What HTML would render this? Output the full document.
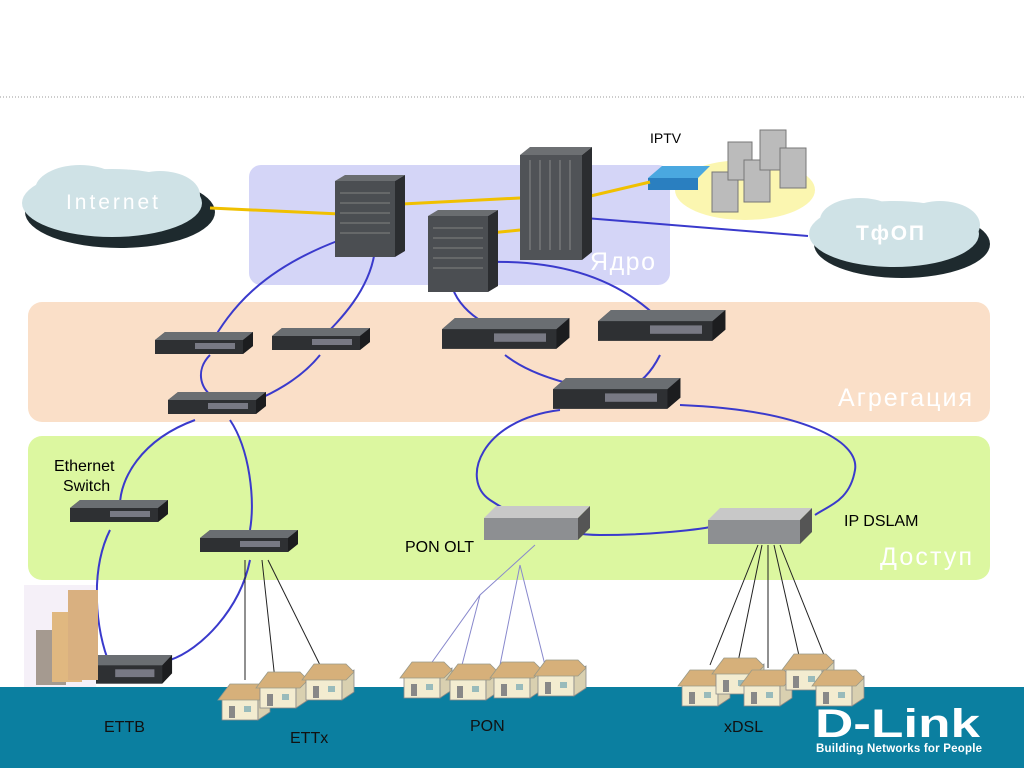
<!DOCTYPE html>
<html><head><meta charset="utf-8"><style>
html,body{margin:0;padding:0;background:#fff;}
svg{display:block;font-family:"Liberation Sans",sans-serif;}
</style></head><body>
<svg width="1024" height="768" viewBox="0 0 1024 768">
<defs>
<g id="sw">
<polygon points="0,8 10,0 98,0 98,14 88,22 0,22" fill="#3a3d40"/>
<polygon points="0,8 88,8 98,0 10,0" fill="#6a6e72"/>
<rect x="0" y="8" width="88" height="14" fill="#2e3033"/>
<rect x="40" y="11" width="40" height="6" fill="#aab" opacity="0.6"/>
<polygon points="88,8 98,0 98,14 88,22" fill="#1c1d1f"/>
</g>
<g id="house">
<rect x="4" y="16" width="36" height="22" fill="#f3ecd0" stroke="#888" stroke-width="0.8"/>
<polygon points="40,16 52,8 52,30 40,38" fill="#d9d0b0" stroke="#888" stroke-width="0.8"/>
<polygon points="0,18 12,2 44,2 52,10 44,18" fill="#d6b07a" stroke="#998" stroke-width="0.8"/>
<rect x="11" y="24" width="6" height="12" fill="#888"/>
<rect x="26" y="24" width="7" height="6" fill="#9bb"/>
</g>
<g id="chassis">
<rect x="0" y="6" width="60" height="76" fill="#4b4e52"/>
<polygon points="0,6 10,0 70,0 60,6" fill="#6a6d70"/>
<polygon points="60,6 70,0 70,76 60,82" fill="#2b2d30"/>
<g stroke="#777" stroke-width="1.2"><line x1="5" y1="18" x2="55" y2="18"/><line x1="5" y1="28" x2="55" y2="28"/><line x1="5" y1="38" x2="55" y2="38"/><line x1="5" y1="48" x2="55" y2="48"/><line x1="5" y1="58" x2="55" y2="58"/></g>
</g>
</defs>
<line x1="0" y1="97" x2="1024" y2="97" stroke="#999" stroke-dasharray="1,2"/>
<rect x="249" y="165" width="421" height="120" rx="12" fill="#d4d5f7"/>
<rect x="28" y="302" width="962" height="120" rx="14" fill="#fadfc8"/>
<rect x="28" y="436" width="962" height="144" rx="14" fill="#dcf7a0"/>
<rect x="0" y="687" width="1024" height="81" fill="#0b7fa0"/>
<text x="590" y="270" font-size="25" fill="#fff" textLength="65">Ядро</text>
<text x="838" y="406" font-size="25" fill="#fff" textLength="134">Агрегация</text>
<text x="880" y="565" font-size="25" fill="#fff" textLength="92">Доступ</text>
<!-- clouds -->
<g fill="#1e2a2e"><ellipse cx="120" cy="212" rx="95" ry="36"/></g>
<g fill="#cfe2e6"><ellipse cx="112" cy="203" rx="90" ry="34"/><ellipse cx="80" cy="190" rx="45" ry="25"/><ellipse cx="160" cy="195" rx="40" ry="24"/></g>
<text x="66" y="209" font-size="21" fill="#fff" textLength="92">Internet</text>
<g fill="#1e2a2e"><ellipse cx="902" cy="244" rx="88" ry="34"/></g>
<g fill="#cfe2e6"><ellipse cx="894" cy="234" rx="85" ry="33"/><ellipse cx="860" cy="220" rx="40" ry="22"/><ellipse cx="940" cy="225" rx="40" ry="24"/></g>
<text x="856" y="240" font-size="21" font-weight="bold" fill="#fff" textLength="68">ТфОП</text>
<!-- IPTV -->
<ellipse cx="745" cy="190" rx="70" ry="30" fill="#fbf6b0"/>
<text x="650" y="143" font-size="14">IPTV</text>
<g fill="#bbb" stroke="#777"><rect x="712" y="172" width="26" height="40"/><rect x="728" y="142" width="24" height="38"/><rect x="744" y="160" width="26" height="42"/><rect x="760" y="130" width="26" height="40"/><rect x="780" y="148" width="26" height="40"/></g>
<polygon points="648,178 662,166 710,166 698,178" fill="#4aa8e0"/><rect x="648" y="178" width="50" height="12" fill="#2a7fc0"/>
<!-- links -->
<g fill="none" stroke="#f0c000" stroke-width="3"><path d="M210 208 L340 214"/><path d="M402 204 L520 198"/><path d="M582 198 L650 182"/><path d="M470 235 L520 230"/></g>
<g fill="none" stroke="#3a3acc" stroke-width="2">
<path d="M585 218 L808 236"/>
<path d="M340 240 C260 270 230 310 210 345"/>
<path d="M375 250 C370 290 340 320 320 340"/>
<path d="M455 262 C440 290 470 320 500 330"/>
<path d="M490 262 C580 260 630 290 660 320"/>
<path d="M210 355 C195 370 200 390 215 398"/>
<path d="M320 355 C300 380 270 395 245 405"/>
<path d="M505 355 C530 375 570 385 600 390"/>
<path d="M660 355 C650 375 640 382 630 388"/>
<path d="M195 420 C140 440 120 480 120 505"/>
<path d="M230 420 C250 450 255 500 250 530"/>
<path d="M110 530 C90 570 95 630 110 665"/>
<path d="M250 560 C240 610 200 650 170 660"/>
<path d="M560 410 C480 420 460 480 490 500 C520 520 560 535 600 535 C650 535 700 530 720 525"/>
<path d="M680 405 C800 410 860 440 855 470 C850 500 830 505 815 515"/>
</g>
<g stroke="#222" stroke-width="1" fill="none">
<path d="M245 560 L245 680"/><path d="M262 560 L275 680"/><path d="M268 560 L320 665"/>
<path d="M758 545 L710 665"/><path d="M762 545 L738 662"/><path d="M768 545 L768 668"/><path d="M774 545 L800 660"/><path d="M780 545 L830 670"/>
</g>
<g stroke="#8888cc" stroke-width="1" fill="none">
<path d="M535 545 L480 595 L430 665"/><path d="M480 595 L462 665"/><path d="M520 565 L500 665"/><path d="M520 565 L545 665"/>
</g>
<!-- devices -->
<use href="#chassis" x="335" y="175"/>
<use href="#chassis" x="428" y="210"/>
<g><rect x="520" y="155" width="62" height="105" fill="#505357"/><polygon points="520,155 530,147 592,147 582,155" fill="#6d7073"/><polygon points="582,155 592,147 592,252 582,260" fill="#2b2d30"/><g stroke="#888"><line x1="530" y1="160" x2="530" y2="250"/><line x1="540" y1="160" x2="540" y2="250"/><line x1="550" y1="160" x2="550" y2="250"/><line x1="560" y1="160" x2="560" y2="250"/><line x1="570" y1="160" x2="570" y2="250"/></g></g>
<use href="#sw" x="155" y="332"/>
<use href="#sw" x="272" y="328"/>
<use href="#sw" x="168" y="392"/>
<g transform="translate(442,318) scale(1.3,1.4)"><use href="#sw"/></g>
<g transform="translate(598,310) scale(1.3,1.4)"><use href="#sw"/></g>
<g transform="translate(553,378) scale(1.3,1.4)"><use href="#sw"/></g>
<use href="#sw" x="70" y="500"/>
<use href="#sw" x="200" y="530"/>
<g transform="translate(76,655) scale(0.98,1.3)"><use href="#sw"/></g>
<g><polygon points="484,518 496,506 590,506 578,518" fill="#c8c8c8"/><rect x="484" y="518" width="94" height="22" fill="#8d8f92"/><polygon points="578,518 590,506 590,528 578,540" fill="#555"/></g>
<g><polygon points="708,520 720,508 812,508 800,520" fill="#c8c8c8"/><rect x="708" y="520" width="92" height="24" fill="#8d8f92"/><polygon points="800,520 812,508 812,532 800,544" fill="#555"/></g>
<!-- building -->
<g><rect x="24" y="585" width="72" height="102" fill="#f5f0f8"/><rect x="36" y="630" width="30" height="55" fill="#a59a90"/><rect x="52" y="612" width="30" height="70" fill="#e0b880"/><rect x="68" y="590" width="30" height="90" fill="#d9b080"/></g>
<text x="54" y="471" font-size="16">Ethernet</text>
<text x="63" y="491" font-size="16">Switch</text>
<text x="405" y="552" font-size="16">PON OLT</text>
<text x="844" y="526" font-size="16">IP DSLAM</text>
<!-- houses -->
<use href="#house" x="218" y="682"/><use href="#house" x="256" y="670"/><use href="#house" x="302" y="662"/>
<use href="#house" x="400" y="660"/><use href="#house" x="446" y="662"/><use href="#house" x="490" y="660"/><use href="#house" x="534" y="658"/>
<use href="#house" x="678" y="668"/><use href="#house" x="712" y="656"/><use href="#house" x="740" y="668"/><use href="#house" x="782" y="652"/><use href="#house" x="812" y="668"/>
<text x="104" y="732" font-size="16" fill="#111">ETTB</text>
<text x="290" y="743" font-size="16" fill="#111">ETTx</text>
<text x="470" y="731" font-size="16" fill="#111">PON</text>
<text x="724" y="732" font-size="16" fill="#111">xDSL</text>
<text x="815" y="737" font-size="40" font-weight="bold" fill="#fff" textLength="165" lengthAdjust="spacingAndGlyphs">D-Link</text>
<text x="816" y="752" font-size="11.5" font-weight="bold" fill="#fff" textLength="166">Building Networks for People</text>
</svg>
</body></html>
